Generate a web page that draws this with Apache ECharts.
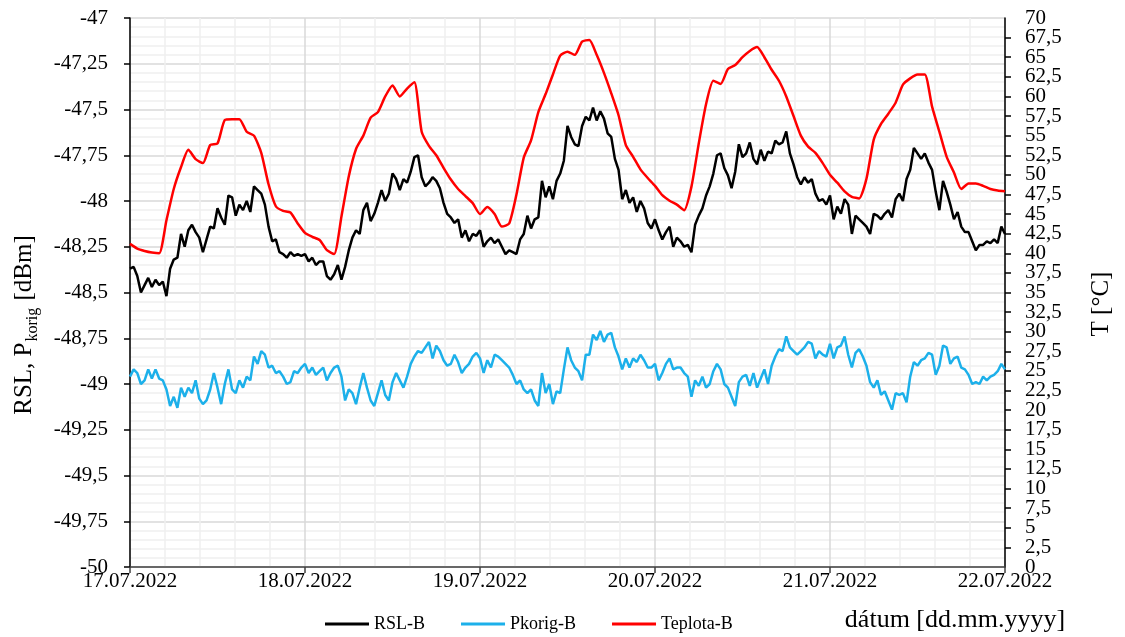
<!DOCTYPE html>
<html>
<head>
<meta charset="utf-8">
<script src="https://cdn.jsdelivr.net/npm/echarts@6/dist/echarts.min.js"></script>
<style>
  html, body { margin: 0; padding: 0; background: #fff; }
  #main { width: 1125px; height: 637px; }
</style>
</head>
<body>
<div id="main"></div>
<script>
// dni na osi x (kazdych 24 h)
var dni = ['17.07.2022', '18.07.2022', '19.07.2022', '20.07.2022', '21.07.2022', '22.07.2022'];

// RSL-B [dBm], vzorka kazdych 30 min
var rslB = [
  -48.37,-48.36,-48.41,-48.50,-48.46,-48.42,-48.47,-48.43,-48.46,-48.44,
  -48.52,-48.37,-48.32,-48.31,-48.18,-48.25,-48.16,-48.13,-48.17,-48.20,
  -48.28,-48.21,-48.14,-48.15,-48.04,-48.09,-48.13,-47.97,-47.98,-48.08,
  -48.02,-48.05,-48.00,-48.06,-47.92,-47.94,-47.96,-48.02,-48.14,-48.22,
  -48.21,-48.28,-48.29,-48.31,-48.28,-48.30,-48.29,-48.30,
  -48.29,-48.33,-48.31,-48.35,-48.33,-48.33,-48.41,-48.43,-48.40,-48.35,
  -48.43,-48.36,-48.27,-48.20,-48.16,-48.18,-48.05,-48.01,-48.11,-48.07,
  -48.01,-47.94,-48.00,-47.96,-47.85,-47.88,-47.94,-47.88,-47.90,-47.84,
  -47.76,-47.75,-47.87,-47.92,-47.90,-47.87,-47.89,-47.93,-48.01,-48.07,
  -48.09,-48.12,-48.10,-48.20,-48.16,-48.22,-48.18,-48.19,
  -48.16,-48.25,-48.22,-48.20,-48.23,-48.21,-48.25,-48.29,-48.27,-48.28,
  -48.29,-48.21,-48.18,-48.08,-48.15,-48.10,-48.09,-47.89,-47.98,-47.92,
  -47.99,-47.89,-47.85,-47.78,-47.59,-47.65,-47.69,-47.70,-47.59,-47.54,
  -47.56,-47.49,-47.56,-47.51,-47.55,-47.63,-47.65,-47.77,-47.83,-47.99,
  -47.94,-48.01,-47.98,-48.06,-48.00,-48.04,-48.12,-48.15,
  -48.10,-48.16,-48.21,-48.17,-48.14,-48.25,-48.20,-48.22,-48.25,-48.24,
  -48.28,-48.13,-48.08,-48.04,-47.97,-47.92,-47.85,-47.75,-47.74,-47.82,
  -47.86,-47.93,-47.84,-47.69,-47.76,-47.74,-47.68,-47.77,-47.80,-47.72,
  -47.78,-47.73,-47.74,-47.67,-47.69,-47.68,-47.62,-47.74,-47.80,-47.87,
  -47.91,-47.87,-47.90,-47.88,-47.96,-48.00,-47.99,-48.02,
  -47.97,-48.10,-48.03,-48.07,-47.99,-48.02,-48.18,-48.08,-48.10,-48.12,
  -48.14,-48.18,-48.07,-48.08,-48.10,-48.07,-48.05,-48.09,-47.99,-47.96,
  -48.00,-47.88,-47.83,-47.71,-47.74,-47.77,-47.74,-47.79,-47.83,-47.95,
  -48.05,-47.89,-47.95,-48.02,-48.10,-48.06,-48.14,-48.17,-48.17,-48.22,
  -48.27,-48.24,-48.24,-48.22,-48.23,-48.21,-48.23,-48.14,-48.18
];

// Pkorig-B [dBm], vzorka kazdych 30 min
var pkorigB = [
  -48.96,-48.92,-48.94,-49.00,-48.98,-48.92,-48.97,-48.92,-48.97,-48.98,
  -49.03,-49.12,-49.07,-49.13,-49.02,-49.07,-49.02,-49.05,-48.98,-49.08,
  -49.11,-49.09,-49.03,-48.94,-49.02,-49.11,-49.00,-48.92,-49.03,-49.05,
  -48.98,-49.02,-48.96,-48.98,-48.85,-48.89,-48.82,-48.84,-48.91,-48.90,
  -48.94,-48.93,-48.96,-49.00,-48.99,-48.93,-48.94,-48.91,
  -48.89,-48.94,-48.91,-48.95,-48.93,-48.91,-48.98,-48.94,-48.91,-48.90,
  -48.96,-49.09,-49.03,-49.05,-49.11,-49.02,-48.94,-49.02,-49.09,-49.12,
  -49.05,-48.98,-49.06,-49.09,-48.99,-48.94,-48.98,-49.02,-48.96,-48.89,
  -48.85,-48.82,-48.83,-48.80,-48.77,-48.86,-48.79,-48.82,-48.87,-48.90,
  -48.89,-48.84,-48.88,-48.94,-48.91,-48.89,-48.85,-48.83,
  -48.86,-48.94,-48.87,-48.91,-48.84,-48.85,-48.87,-48.89,-48.91,-48.95,
  -49.00,-48.98,-49.03,-49.05,-49.03,-49.09,-49.12,-48.94,-49.05,-49.00,
  -49.11,-49.04,-49.05,-48.92,-48.80,-48.87,-48.91,-48.93,-48.98,-48.84,
  -48.84,-48.73,-48.76,-48.71,-48.77,-48.73,-48.72,-48.80,-48.85,-48.92,
  -48.86,-48.91,-48.86,-48.88,-48.84,-48.87,-48.91,-48.91,
  -48.89,-48.98,-48.94,-48.89,-48.86,-48.92,-48.91,-48.91,-48.94,-48.96,
  -49.07,-48.98,-49.01,-48.96,-49.02,-49.00,-48.93,-48.89,-48.92,-49.00,
  -49.02,-49.07,-49.12,-48.99,-48.96,-48.95,-49.01,-48.94,-49.02,-48.97,
  -48.92,-49.00,-48.90,-48.85,-48.81,-48.82,-48.74,-48.80,-48.82,-48.84,
  -48.82,-48.80,-48.77,-48.78,-48.86,-48.82,-48.84,-48.85,
  -48.78,-48.86,-48.80,-48.79,-48.74,-48.84,-48.91,-48.83,-48.81,-48.85,
  -48.90,-48.99,-49.02,-48.98,-49.06,-49.04,-49.09,-49.14,-49.05,-49.06,
  -49.05,-49.10,-48.96,-48.88,-48.90,-48.87,-48.86,-48.83,-48.84,-48.95,
  -48.90,-48.79,-48.80,-48.89,-48.86,-48.85,-48.91,-48.92,-48.95,-49.00,
  -48.99,-49.00,-48.96,-48.98,-48.96,-48.95,-48.93,-48.89,-48.92
];

// Teplota-B [°C], vzorka kazdu hodinu
var teplotaB = [
  41.2,40.6,40.3,40.1,40.0,44.2,48.2,51.0,53.2,52.0,51.5,53.8,54.0,57.0,57.1,57.1,55.5,55.0,52.8,48.8,46.0,45.4,45.2,43.8,
  42.6,42.1,41.7,40.4,39.9,44.7,49.8,53.3,55.0,57.3,58.0,60.0,61.4,60.0,61.0,61.8,55.5,53.7,52.5,50.9,49.4,48.2,47.3,46.4,
  45.0,45.9,45.0,43.4,43.8,47.5,52.2,54.4,58.0,60.3,62.8,65.2,65.7,65.3,67.0,67.2,65.3,63.0,60.4,57.6,53.8,52.3,50.7,49.6,
  48.6,47.4,46.7,46.2,45.5,48.5,54.0,59.0,62.0,61.6,63.5,64.0,65.0,65.8,66.3,65.0,63.4,62.0,60.0,57.5,55.0,53.6,52.8,51.5,
  50.0,49.0,47.9,47.2,47.0,49.5,54.5,56.5,57.8,59.2,61.5,62.3,62.8,62.8,58.7,55.5,52.3,50.3,48.2,48.9,48.9,48.6,48.2,48.0,47.9
];

var serif = '"Liberation Serif", "DejaVu Serif", serif';

function ciarka(v) {
    return String(v).replace('.', ',');
}

var pravaOsLabel = {
    margin: 20,
    fontFamily: serif,
    fontSize: 21,
    lineHeight: 12,
    color: '#000'
};

var myChart = echarts.init(document.getElementById('main'));
var option = {
    animation: false,
    backgroundColor: '#fff',
    grid: {
        left: 130,
        right: 120,
        top: 18,
        bottom: 70
    },
    legend: {
        left: 320,
        top: 610,
        icon: 'rect',
        itemWidth: 44,
        itemHeight: 3,
        itemGap: 36,
        textStyle: {
            fontFamily: serif,
            fontSize: 18,
            color: '#000'
        },
        data: ['RSL-B', 'Pkorig-B', 'Teplota-B']
    },
    xAxis: {
        type: 'value',
        min: 0,
        max: 120,
        interval: 24,
        axisLine: {
            lineStyle: { color: '#404040', width: 1.5 }
        },
        axisTick: {
            show: true,
            length: 6,
            lineStyle: { color: '#404040', width: 1.5 }
        },
        axisLabel: {
            margin: 4,
            fontFamily: serif,
            fontSize: 21,
            color: '#000',
            showMinLabel: true,
            showMaxLabel: true,
            formatter: function (v) {
                return dni[Math.round(v / 24)];
            }
        },
        splitLine: {
            show: true,
            lineStyle: { color: '#d9d9d9', width: 1.5 }
        },
        minorTick: { show: false, splitNumber: 5 },
        minorSplitLine: {
            show: true,
            lineStyle: { color: '#efefef', width: 1.5 }
        }
    },
    yAxis: [{
        type: 'value',
        min: -50,
        max: -47,
        interval: 0.25,
        axisLine: {
            show: true,
            lineStyle: { color: '#000', width: 1.5 }
        },
        axisTick: {
            show: true,
            length: 6,
            lineStyle: { color: '#000', width: 1.5 }
        },
        axisLabel: {
            margin: 22,
            fontFamily: serif,
            fontSize: 21,
            color: '#000',
            showMinLabel: true,
            showMaxLabel: true,
            formatter: ciarka
        },
        splitLine: {
            lineStyle: { color: '#d9d9d9', width: 1.5 }
        },
        minorTick: { show: false, splitNumber: 5 },
        minorSplitLine: {
            show: true,
            lineStyle: { color: '#efefef', width: 1.5 }
        }
    }, {
        type: 'value',
        position: 'right',
        min: 0,
        max: 70,
        interval: 2.5,
        axisLine: {
            show: true,
            lineStyle: { color: '#000', width: 1.5 }
        },
        axisTick: {
            show: true,
            length: 6,
            lineStyle: { color: '#000', width: 1.5 }
        },
        axisLabel: Object.assign({
            showMinLabel: false,
            showMaxLabel: false,
            formatter: ciarka
        }, pravaOsLabel),
        splitLine: { show: false }
    }, {
        // len krajne popisy 0 a 70 na pravej osi
        type: 'value',
        position: 'right',
        min: 0,
        max: 70,
        interval: 2.5,
        axisLine: { show: false },
        axisTick: { show: false },
        axisLabel: Object.assign({
            showMinLabel: true,
            showMaxLabel: true,
            formatter: function (v) {
                return (v === 0 || v === 70) ? ciarka(v) : '';
            }
        }, pravaOsLabel),
        splitLine: { show: false }
    }],
    graphic: [{
        type: 'text',
        x: 24,
        y: 325,
        rotation: Math.PI / 2,
        style: {
            text: '{a|RSL, P}{b|korig}{a| [dBm]}',
            align: 'center',
            verticalAlign: 'middle',
            rich: {
                a: { fontFamily: serif, fontSize: 25, fill: '#000', verticalAlign: 'bottom' },
                b: { fontFamily: serif, fontSize: 16, fill: '#000', verticalAlign: 'bottom', padding: [0, 1, -4, 1] }
            }
        }
    }, {
        type: 'text',
        x: 1101,
        y: 304,
        rotation: Math.PI / 2,
        style: {
            text: 'T [°C]',
            align: 'center',
            verticalAlign: 'middle',
            fontFamily: serif,
            fontSize: 25,
            fill: '#000'
        }
    }, {
        type: 'text',
        x: 955,
        y: 620,
        style: {
            text: 'dátum [dd.mm.yyyy]',
            align: 'center',
            verticalAlign: 'middle',
            fontFamily: serif,
            fontSize: 26,
            fill: '#000'
        }
    }],
    series: [{
        name: 'RSL-B',
        type: 'line',
        yAxisIndex: 0,
        showSymbol: false,
        symbol: 'none',
        lineStyle: { color: '#000', width: 2.5 },
        itemStyle: { color: '#000' },
        data: rslB.map(function (v, i) { return [i * 0.5, v]; })
    }, {
        name: 'Pkorig-B',
        type: 'line',
        yAxisIndex: 0,
        showSymbol: false,
        symbol: 'none',
        lineStyle: { color: '#1cb0ea', width: 2.5 },
        itemStyle: { color: '#1cb0ea' },
        data: pkorigB.map(function (v, i) { return [i * 0.5, v]; })
    }, {
        name: 'Teplota-B',
        type: 'line',
        yAxisIndex: 1,
        showSymbol: false,
        symbol: 'none',
        smooth: 0.2,
        lineStyle: { color: '#ff0000', width: 2.5 },
        itemStyle: { color: '#ff0000' },
        data: teplotaB.map(function (v, i) { return [i, v]; })
    }]
};
myChart.setOption(option);
</script>
</body>
</html>
